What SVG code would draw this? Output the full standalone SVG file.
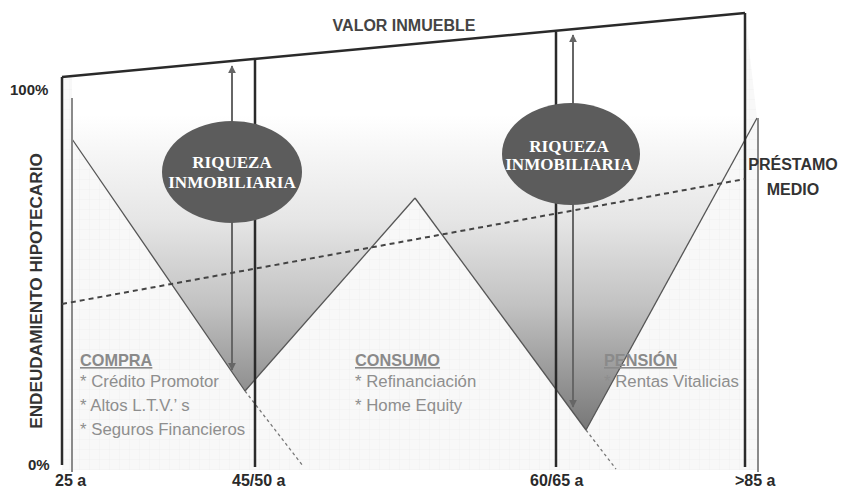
<svg xmlns="http://www.w3.org/2000/svg" width="842" height="488" viewBox="0 0 842 488">
<defs>
<linearGradient id="shade" gradientUnits="userSpaceOnUse" x1="0" y1="115" x2="0" y2="432">
<stop offset="0" stop-color="#ffffff"/>
<stop offset="0.33" stop-color="#e6e6e6"/>
<stop offset="0.6" stop-color="#c2c2c2"/>
<stop offset="1" stop-color="#767676"/>
</linearGradient>
<pattern id="grid" width="10" height="10" patternUnits="userSpaceOnUse">
<rect width="10" height="10" fill="#f8f8f8"/>
<path d="M10 0V10M0 10H10" stroke="#ececec" stroke-width="0.8" fill="none"/>
</pattern>
<marker id="ah" viewBox="0 0 10 10" refX="9" refY="5" markerWidth="4" markerHeight="4" orient="auto-start-reverse">
<path d="M0 0L10 5L0 10z" fill="#666"/>
</marker>
<style>
.ax{stroke:#2a2a2a;stroke-width:2.5;fill:none}
.gv{stroke:#8a8a8a;stroke-width:2;fill:none}
.vl{stroke:#555;stroke-width:1.3;fill:none}
.dx{stroke:#777;stroke-width:1.3;fill:none;stroke-dasharray:3 3}
.arr{stroke:#666;stroke-width:2;fill:none}
.lbl{font-family:"Liberation Sans",Arial,sans-serif;font-weight:bold;font-size:16px;fill:#2a2a2a}
.hd{font-family:"Liberation Sans",Arial,sans-serif;font-weight:bold;font-size:16.3px;fill:#8a8a8a;text-decoration:underline}
.it{font-family:"Liberation Sans",Arial,sans-serif;font-size:16.8px;fill:#8e8e8e}
.ell{fill:#5c5c5c}
.et{font-family:"Liberation Serif","Times New Roman",serif;font-weight:bold;font-size:17px;fill:#ffffff;text-anchor:middle}
</style>
</defs>
<g id="background">
<polygon points="62,77 745,13 757,118 757,470 62,470" fill="url(#grid)"/>
<polygon points="72,76 745,13 745,140 586,430 415,198 245,391 72,139" fill="url(#shade)"/>
</g>
<g id="connectors">
<line class="vl" x1="72" y1="139" x2="245" y2="391"/>
<line class="vl" x1="245" y1="391" x2="415" y2="198"/>
<line class="vl" x1="415" y1="198" x2="586" y2="430"/>
<line class="vl" x1="586" y1="430" x2="757" y2="118"/>
<line class="dx" x1="245" y1="391" x2="303" y2="466"/>
<line class="dx" x1="586" y1="430" x2="616" y2="469"/>
<line class="gv" x1="72" y1="98" x2="72" y2="472"/>
<line class="gv" x1="758" y1="118" x2="758" y2="472"/>
<line class="arr" x1="232" y1="66" x2="232" y2="370" marker-start="url(#ah)" marker-end="url(#ah)"/>
<line class="arr" x1="573" y1="35" x2="573" y2="407" marker-start="url(#ah)" marker-end="url(#ah)"/>
<line class="ax" x1="255" y1="60" x2="255" y2="467"/>
<line class="ax" x1="556" y1="32" x2="556" y2="467"/>
<line class="ax" x1="745" y1="13" x2="745" y2="467"/>
<line class="ax" x1="62" y1="465" x2="62" y2="77"/>
<line class="ax" x1="62" y1="77" x2="745" y2="13"/>
<line x1="62" y1="304" x2="745" y2="179" stroke="#444" stroke-width="2" stroke-dasharray="5 4"/>
</g>
<g id="riqueza1">
<ellipse class="ell" cx="232" cy="172" rx="70" ry="51"/>
<text class="et" x="232" y="168">RIQUEZA</text>
<text class="et" x="232" y="188">INMOBILIARIA</text>
</g>
<g id="riqueza2">
<ellipse class="ell" cx="571" cy="154" rx="69" ry="51"/>
<text class="et" x="569" y="152">RIQUEZA</text>
<text class="et" x="569" y="170">INMOBILIARIA</text>
</g>
<g id="axis-labels">
<text class="lbl" x="404" y="31" text-anchor="middle" style="fill:#444">VALOR INMUEBLE</text>
<text class="lbl" x="10" y="95" style="font-size:15px">100%</text>
<text class="lbl" x="28" y="470" style="font-size:15px">0%</text>
<text class="lbl" x="55" y="486">25 a</text>
<text class="lbl" x="232" y="486">45/50 a</text>
<text class="lbl" x="530" y="486">60/65 a</text>
<text class="lbl" x="735" y="486">&gt;85 a</text>
<text class="lbl" transform="translate(42,291) rotate(-90)" text-anchor="middle" style="font-size:17.2px;fill:#333">ENDEUDAMIENTO HIPOTECARIO</text>
<text class="lbl" x="793" y="170" text-anchor="middle" style="fill:#333">PRÉSTAMO</text>
<text class="lbl" x="793" y="195" text-anchor="middle" style="fill:#333">MEDIO</text>
</g>
<g id="compra">
<text class="hd" x="80" y="366">COMPRA</text>
<text class="it" x="80" y="387">* Crédito Promotor</text>
<text class="it" x="80" y="411">* Altos L.T.V.’ s</text>
<text class="it" x="80" y="435">* Seguros Financieros</text>
</g>
<g id="consumo">
<text class="hd" x="355" y="366">CONSUMO</text>
<text class="it" x="355" y="387">* Refinanciación</text>
<text class="it" x="355" y="411">* Home Equity</text>
</g>
<g id="pension">
<text class="hd" x="604" y="366">PENSIÓN</text>
<text class="it" x="604" y="387">* Rentas Vitalicias</text>
</g>
</svg>
